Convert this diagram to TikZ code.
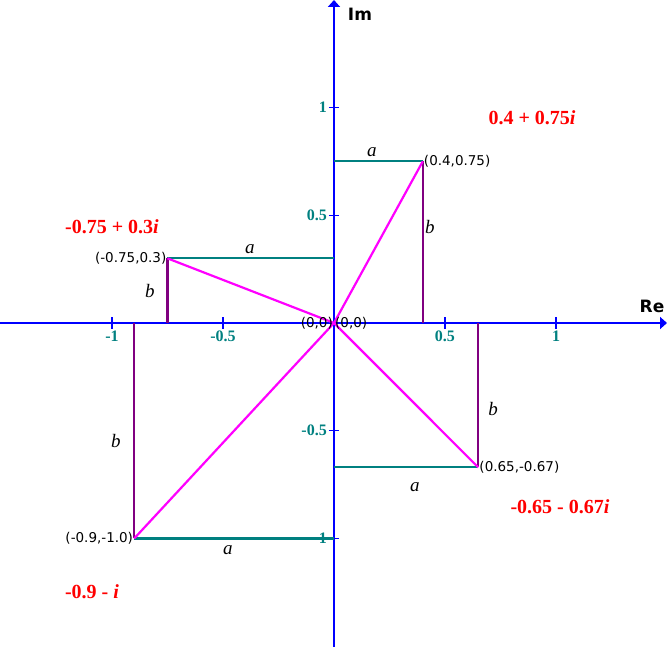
\documentclass[tikz,border=0pt]{standalone}
\usepackage{fontspec}
\setmainfont{Liberation Serif}
\newfontfamily\versans{DejaVu Sans}
\usetikzlibrary{arrows.meta}
\definecolor{axisblue}{RGB}{0,0,255}
\definecolor{tealc}{RGB}{0,128,128}
\definecolor{purp}{RGB}{128,0,128}
\definecolor{magc}{RGB}{255,0,255}
\definecolor{redc}{RGB}{255,0,0}
\begin{document}
\begin{tikzpicture}[x=222pt,y=215.5pt,
  axis/.style={draw=axisblue,line width=2.2pt,-{Triangle[length=7pt,width=12pt]}},
  tickmark/.style={draw=axisblue,line width=1.3pt},
  ticklbl/.style={text=tealc,font=\fontsize{16}{18}\selectfont\bfseries,inner sep=0pt},
  aline/.style={draw=tealc,line width=2.2pt},
  bline/.style={draw=purp,line width=2.2pt},
  vec/.style={draw=magc,line width=2.2pt},
  ptlbl/.style={font=\versans\fontsize{13.5}{15}\selectfont,inner sep=1pt},
  sidelbl/.style={font=\fontsize{19}{21}\selectfont\itshape,inner sep=0pt},
  cplx/.style={text=redc,font=\fontsize{20}{22}\selectfont\bfseries,inner sep=0pt},
  axlbl/.style={font=\versans\fontsize{17}{19}\selectfont\bfseries,inner sep=0pt}]
\useasboundingbox (-334pt,-324pt) rectangle (333pt,323pt);
% axes
\coordinate (xl) at (-334pt,0);
\coordinate (xr) at (333pt,0);
\coordinate (yb) at (0,-324pt);
\coordinate (yt) at (0,323pt);
\draw[axis] (xl) -- (xr);
\draw[axis] (yb) -- (yt);
\node[axlbl] (re) at (318pt,17pt) {Re};
\node[axlbl] (im) at (26pt,309pt) {Im};
% ticks
\foreach \v/\t in {-1/-1,-0.5/-0.5,0.5/0.5,1/1}{
  \draw[tickmark] (\v,0) ++(0,-6pt) -- ++(0,12pt);
  \node[ticklbl] at ([yshift=-13pt]\v,0) {\t};
  \draw[tickmark] (0,\v) ++(-5pt,0) -- ++(10pt,0);
  \node[ticklbl,anchor=east] at ([xshift=-7pt]0,\v) {\t};
}
% points
\coordinate (O) at (0,0);
\coordinate (P1) at (0.4,0.75);  \coordinate (P1x) at (0.4,0);  \coordinate (P1y) at (0,0.75);
\coordinate (P2) at (-0.75,0.3); \coordinate (P2x) at (-0.75,0); \coordinate (P2y) at (0,0.3);
\coordinate (P3) at (0.65,-0.67); \coordinate (P3x) at (0.65,0); \coordinate (P3y) at (0,-0.67);
\coordinate (P4) at (-0.9,-1); \coordinate (P4x) at (-0.9,0); \coordinate (P4y) at (0,-1);
\draw[aline] (P1y) -- (P1); \draw[bline] (P1x) -- (P1);
\draw[aline] (P2y) -- (P2); \draw[bline] (P2x) -- (P2);
\draw[aline] (P3y) -- (P3); \draw[bline] (P3x) -- (P3);
\draw[aline] (P4y) -- (P4); \draw[bline] (P4x) -- (P4);
\draw[vec] (O) -- (P1);
\draw[vec] (O) -- (P2);
\draw[vec] (O) -- (P3);
\draw[vec] (O) -- (P4);
% side labels
\node[sidelbl] (a1) at (38pt,171pt) {a};
\node[sidelbl] (b1) at (96pt,96pt) {b};
\node[sidelbl] (a2) at (-84pt,74pt) {a};
\node[sidelbl] (b2) at (-184pt,32pt) {b};
\node[sidelbl] (a3) at (81pt,-164pt) {a};
\node[sidelbl] (b3) at (159pt,-86pt) {b};
\node[sidelbl] (a4) at (-106pt,-227pt) {a};
\node[sidelbl] (b4) at (-218pt,-118pt) {b};
% point labels
\node[ptlbl,anchor=west] (l1) at (P1) {(0.4,0.75)};
\node[ptlbl,anchor=east] (l2) at (P2) {(-0.75,0.3)};
\node[ptlbl,anchor=west] (l3) at (P3) {(0.65,-0.67)};
\node[ptlbl,anchor=east] (l4) at (P4) {(-0.9,-1.0)};
\node[ptlbl,anchor=east] (l0a) at (O) {(0,0)};
\node[ptlbl,anchor=west] (l0b) at (O) {(0,0)};
% complex numbers
\node[cplx] (c1) at (198pt,205pt) {0.4 + 0.75\textit{i}};
\node[cplx] (c2) at (-222pt,96pt) {-0.75 + 0.3\textit{i}};
\node[cplx] (c3) at (226pt,-184pt) {-0.65 - 0.67\textit{i}};
\node[cplx] (c4) at (-242pt,-269pt) {-0.9 - \textit{i}};
\end{tikzpicture}
\end{document}
